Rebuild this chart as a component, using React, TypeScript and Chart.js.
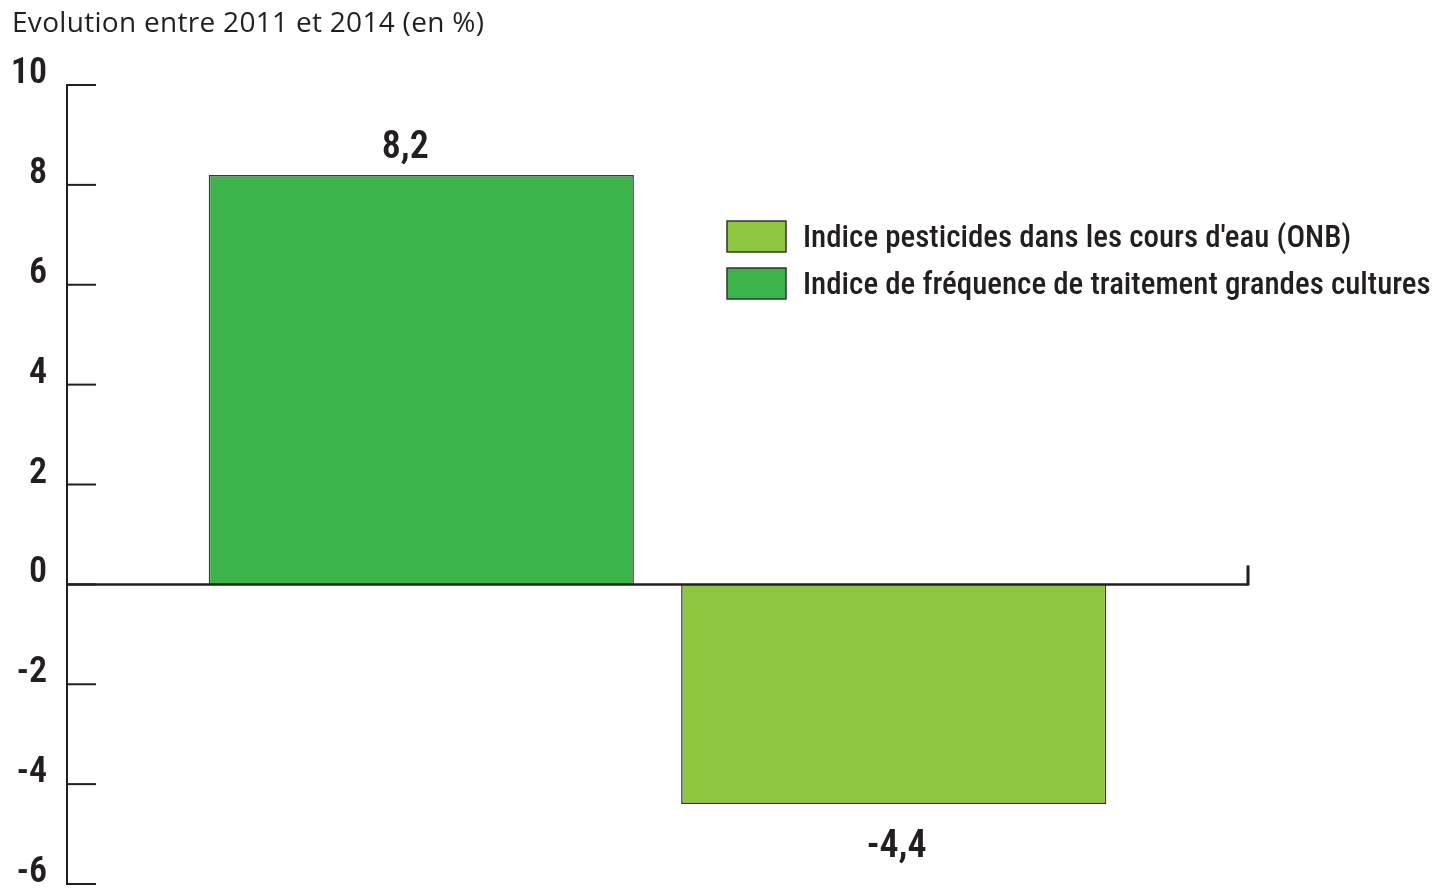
import React, { useEffect, useRef } from "react";
import { Chart, registerables } from "chart.js";
Chart.register(...registerables);

const TITLE = "Evolution entre 2011 et 2014 (en %)";
const CATEGORIES = [""];
const SERIES_LABELS = [
  "Indice de fréquence de traitement grandes cultures",
  "Indice pesticides dans les cours d'eau (ONB)",
];
const SERIES_VALUES = [8.2, -4.4];
const SERIES_COLORS = ["#3bb54a", "#8dc63f"];
const Y_MIN = -6;
const Y_MAX = 10;
const Y_STEP = 2;

const INK = "#231f20";
const COND = "condensed 500";
const COND_BOLD = "condensed 600";
const FAMILY = "Roboto, sans-serif";

const fmt = (v: number) => String(v).replace(".", ",");

const axisPlugin = {
  id: "customAxis",
  afterDatasetsDraw(chart: any) {
    const { ctx, chartArea } = chart;
    const y = chart.scales.y;
    const left = chartArea.left;
    ctx.save();
    ctx.strokeStyle = INK;
    ctx.lineCap = "butt";
    // vertical axis
    ctx.lineWidth = 2;
    ctx.beginPath();
    ctx.moveTo(left, y.getPixelForValue(Y_MAX) - 1);
    ctx.lineTo(left, y.getPixelForValue(Y_MIN) + 1);
    ctx.stroke();
    // tick marks (inside)
    y.ticks.forEach((t: any) => {
      const py = y.getPixelForValue(t.value);
      ctx.beginPath();
      ctx.moveTo(left, py);
      ctx.lineTo(left + 29, py);
      ctx.stroke();
    });
    // zero line
    const y0 = y.getPixelForValue(0);
    ctx.lineWidth = 2.5;
    ctx.beginPath();
    ctx.moveTo(left, y0);
    ctx.lineTo(chartArea.right, y0);
    ctx.stroke();
    // end tick
    ctx.lineWidth = 3;
    ctx.beginPath();
    ctx.moveTo(chartArea.right, y0 + 1.2);
    ctx.lineTo(chartArea.right, y0 - 19);
    ctx.stroke();

    // value labels
    ctx.fillStyle = INK;
    ctx.font = `${COND_BOLD} 38px ${FAMILY}`;
    ctx.textAlign = "center";
    ctx.textBaseline = "alphabetic";
    chart.data.datasets.forEach((ds: any, i: number) => {
      const meta = chart.getDatasetMeta(i);
      meta.data.forEach((bar: any, j: number) => {
        const v = ds.data[j];
        const ty = v >= 0 ? bar.y - 17 : bar.y + 53;
        const tx = v >= 0 ? bar.x - 16 : bar.x + 3;
        ctx.fillText(fmt(v), tx, ty);
      });
    });

    // legend (reverse order)
    const lx = chartArea.left + 660;
    let ly = chartArea.top + 136;
    const items = chart.data.datasets.map((d: any) => d).reverse();
    ctx.textAlign = "left";
    ctx.textBaseline = "alphabetic";
    ctx.font = `${COND} 31px ${FAMILY}`;
    items.forEach((d: any) => {
      ctx.fillStyle = d.backgroundColor;
      ctx.fillRect(lx, ly, 59, 31);
      ctx.lineWidth = 1.5;
      ctx.strokeStyle = "#333";
      ctx.strokeRect(lx, ly, 59, 31);
      ctx.fillStyle = INK;
      ctx.fillText(d.label, lx + 76, ly + 26);
      ly += 47;
    });
    ctx.restore();
  },
};

export default function App() {
  const ref = useRef<HTMLCanvasElement | null>(null);
  useEffect(() => {
    if (!ref.current) return;
    const chart = new Chart(ref.current, {
      type: "bar",
      data: {
        labels: CATEGORIES,
        datasets: SERIES_LABELS.map((label, i) => ({
          label,
          data: [SERIES_VALUES[i]],
          backgroundColor: SERIES_COLORS[i],
          borderColor: "#3a3a3a",
          borderWidth: 1.5,
        })),
      },
      options: {
        responsive: false,
        animation: false,
        layout: { padding: { left: 0, top: 85, right: 189, bottom: 5 } },
        plugins: {
          legend: { display: false },
          tooltip: { enabled: false },
          title: { display: false },
        },
        scales: {
          x: { display: false },
          y: {
            min: Y_MIN,
            max: Y_MAX,
            border: { display: false },
            grid: { display: false, drawTicks: false },
            ticks: {
              stepSize: Y_STEP,
              padding: 20,
              labelOffset: -11,
              color: INK,
              font: { family: FAMILY, size: 36, weight: COND_BOLD as any },
            },
            afterFit: (scale: any) => {
              scale.width = 67;
              scale.paddingTop = 0;
              scale.paddingBottom = 0;
            },
          },
        },
      },
      plugins: [axisPlugin],
    });
    return () => chart.destroy();
  }, []);

  return (
    <div style={{ position: "fixed", left: 0, top: 0, width: 1437, height: 889, background: "#fff" }}>
      <canvas ref={ref} width={1437} height={889} style={{ position: "absolute", left: 0, top: 0 }} />
      <div
        style={{
          position: "absolute",
          left: 12,
          top: 2,
          fontFamily: "'Open Sans', sans-serif",
          fontSize: 28,
          letterSpacing: 0.3,
          color: INK,
          whiteSpace: "nowrap",
        }}
      >
        {TITLE}
      </div>
    </div>
  );
}
